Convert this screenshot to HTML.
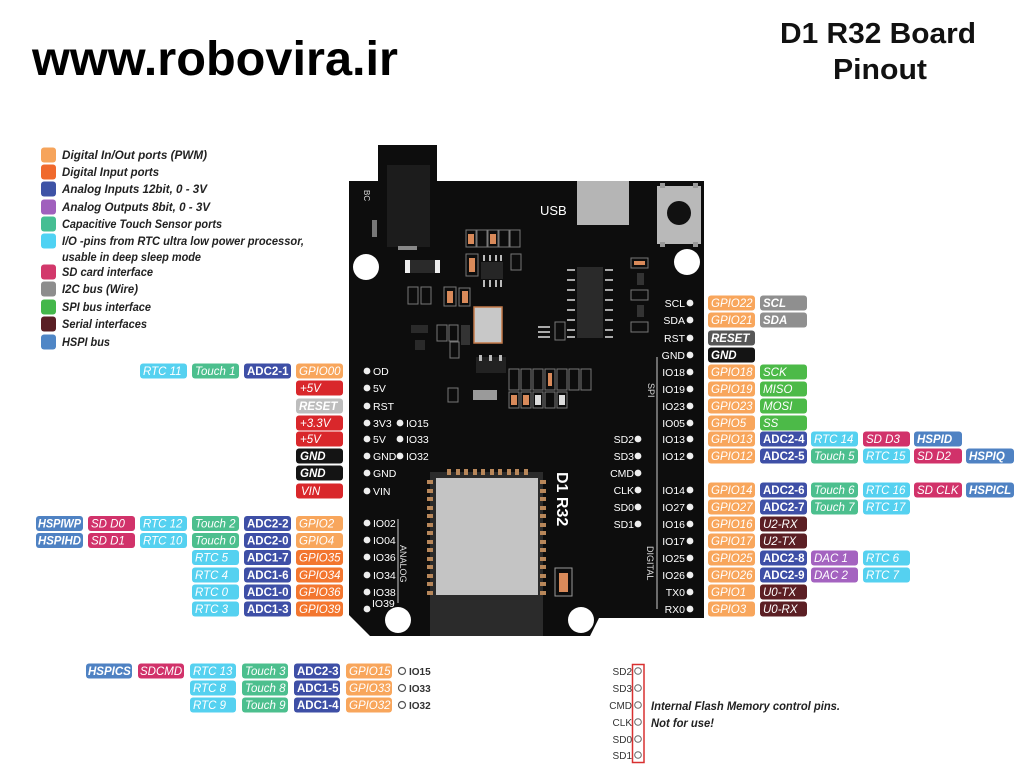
<!DOCTYPE html>
<html><head><meta charset="utf-8">
<style>
html,body{margin:0;padding:0;background:#fff;}
svg{display:block;}
.t{font-family:"Liberation Sans",sans-serif;font-size:11.5px;font-style:italic;fill:#fff;}
.b{font-weight:bold;}
.u{font-style:normal;font-weight:bold;}
.p{font-family:"Liberation Sans",sans-serif;font-size:10.5px;fill:#fff;}
.lg{font-family:"Liberation Sans",sans-serif;font-size:11.7px;font-style:italic;font-weight:bold;fill:#222;}
.o{fill:#f8a65c}.od{fill:#f3762f}.a{fill:#3e4fa6}.d{fill:#a463c0}.tc{fill:#4cbf8e}.r{fill:#55d1f0}
.s{fill:#d1326a}.g{fill:#8f8f8f}.sp{fill:#4cba48}.se{fill:#5b1f24}.h{fill:#4f82c3}.pw{fill:#d9272b}
.k{fill:#141414}.rl{fill:#bdbdbd}.rd{fill:#575757}
.c{fill:none;stroke:#777;stroke-width:1}
.dot{fill:#eee}
</style></head>
<body>
<svg width="1024" height="771" viewBox="0 0 1024 771" xmlns="http://www.w3.org/2000/svg">
<rect width="1024" height="771" fill="#fff"/>

<!-- Titles -->
<text x="32" y="75" font-family="Liberation Sans, sans-serif" font-weight="bold" font-size="48" fill="#000" textLength="366" lengthAdjust="spacingAndGlyphs">www.robovira.ir</text>
<text x="878" y="43" text-anchor="middle" font-family="Liberation Sans, sans-serif" font-weight="bold" font-size="29" fill="#111" textLength="196" lengthAdjust="spacingAndGlyphs">D1 R32 Board</text>
<text x="880" y="79" text-anchor="middle" font-family="Liberation Sans, sans-serif" font-weight="bold" font-size="29" fill="#111" textLength="94" lengthAdjust="spacingAndGlyphs">Pinout</text>

<!-- Legend -->
<g>
<rect x="41" y="147.5" width="15" height="15" rx="3" fill="#f6a45b"/><text x="62" y="159" class="lg" textLength="145" lengthAdjust="spacingAndGlyphs">Digital In/Out ports (PWM)</text>
<rect x="41" y="164.5" width="15" height="15" rx="3" fill="#f0692c"/><text x="62" y="176" class="lg" textLength="97" lengthAdjust="spacingAndGlyphs">Digital Input ports</text>
<rect x="41" y="181.5" width="15" height="15" rx="3" fill="#3e53a6"/><text x="62" y="193" class="lg" textLength="145" lengthAdjust="spacingAndGlyphs">Analog Inputs 12bit, 0 - 3V</text>
<rect x="41" y="199.5" width="15" height="15" rx="3" fill="#a060bd"/><text x="62" y="211" class="lg" textLength="148" lengthAdjust="spacingAndGlyphs">Analog Outputs 8bit, 0 - 3V</text>
<rect x="41" y="216.5" width="15" height="15" rx="3" fill="#46be93"/><text x="62" y="228" class="lg" textLength="160" lengthAdjust="spacingAndGlyphs">Capacitive Touch Sensor ports</text>
<rect x="41" y="233.5" width="15" height="15" rx="3" fill="#4fd2f3"/><text x="62" y="245" class="lg" textLength="242" lengthAdjust="spacingAndGlyphs">I/O -pins from RTC ultra low power processor,</text>
<text x="62" y="261" class="lg" textLength="139" lengthAdjust="spacingAndGlyphs">usable in deep sleep mode</text>
<rect x="41" y="264.5" width="15" height="15" rx="3" fill="#d2386b"/><text x="62" y="276" class="lg" textLength="91" lengthAdjust="spacingAndGlyphs">SD card interface</text>
<rect x="41" y="281.5" width="15" height="15" rx="3" fill="#8d8d8d"/><text x="62" y="293" class="lg" textLength="76" lengthAdjust="spacingAndGlyphs">I2C bus (Wire)</text>
<rect x="41" y="299.5" width="15" height="15" rx="3" fill="#44b74a"/><text x="62" y="311" class="lg" textLength="89" lengthAdjust="spacingAndGlyphs">SPI bus interface</text>
<rect x="41" y="316.5" width="15" height="15" rx="3" fill="#5a1f25"/><text x="62" y="328" class="lg" textLength="85" lengthAdjust="spacingAndGlyphs">Serial interfaces</text>
<rect x="41" y="334.5" width="15" height="15" rx="3" fill="#4f86c6"/><text x="62" y="346" class="lg" textLength="48" lengthAdjust="spacingAndGlyphs">HSPI bus</text>
</g>

<!-- Board -->
<rect x="378" y="145" width="59" height="50" fill="#0d0d0d"/>
<polygon points="349,181 704,181 704,618 599,618 590,636 370,636 349,615" fill="#0d0d0d"/>
<rect x="387" y="165" width="43" height="82" fill="#1c1c1c"/>
<rect x="398" y="246" width="19" height="4" fill="#888"/>
<rect x="372" y="220" width="5" height="17" fill="#777"/>
<text transform="translate(364,190) rotate(90)" font-family="Liberation Sans, sans-serif" font-size="8" fill="#ddd">BC</text>
<rect x="577" y="181" width="52" height="44" fill="#b5b5b5"/>
<text x="540" y="215" font-family="Liberation Sans, sans-serif" font-size="13" fill="#fff">USB</text>
<rect x="657" y="186" width="44" height="58" fill="#b9b9b9"/>
<rect x="660" y="183" width="5" height="5" fill="#999"/><rect x="693" y="183" width="5" height="5" fill="#999"/>
<rect x="660" y="242" width="5" height="5" fill="#999"/><rect x="693" y="242" width="5" height="5" fill="#999"/>
<circle cx="679" cy="213" r="12" fill="#111"/>
<circle cx="366" cy="267" r="13" fill="#fff"/>
<circle cx="687" cy="262" r="13" fill="#fff"/>

<!-- small components -->
<rect x="405" y="260" width="35" height="13" fill="#2a2a2a"/><rect x="405" y="260" width="5" height="13" fill="#eee"/><rect x="435" y="260" width="5" height="13" fill="#eee"/>
<g class="c">
<rect x="466" y="230" width="10" height="17"/><rect x="477" y="230" width="10" height="17"/><rect x="488" y="230" width="10" height="17"/><rect x="499" y="230" width="10" height="17"/><rect x="510" y="230" width="10" height="17"/>
<rect x="466" y="254" width="12" height="22"/><rect x="511" y="254" width="10" height="16"/>
<rect x="408" y="287" width="10" height="17"/><rect x="421" y="287" width="10" height="17"/>
<rect x="444" y="287" width="12" height="19"/><rect x="459" y="288" width="11" height="18"/>
<rect x="437" y="325" width="10" height="16"/><rect x="449" y="325" width="9" height="16"/><rect x="450" y="342" width="9" height="16"/>
<rect x="555" y="322" width="10" height="18"/>
<rect x="631" y="258" width="17" height="10"/><rect x="631" y="290" width="17" height="10"/><rect x="631" y="322" width="17" height="10"/>
<rect x="509" y="369" width="10" height="21"/><rect x="521" y="369" width="10" height="21"/><rect x="533" y="369" width="10" height="21"/><rect x="545" y="369" width="10" height="21"/><rect x="557" y="369" width="10" height="21"/><rect x="569" y="369" width="10" height="21"/><rect x="581" y="369" width="10" height="21"/>
<rect x="509" y="392" width="10" height="16"/><rect x="521" y="392" width="10" height="16"/><rect x="533" y="392" width="10" height="16"/><rect x="545" y="392" width="10" height="16"/><rect x="557" y="392" width="10" height="16"/>
<rect x="448" y="388" width="10" height="14"/>
<rect x="555" y="568" width="17" height="28" stroke="#999"/>
</g>
<g fill="#d98a5a">
<rect x="468" y="234" width="6" height="10"/><rect x="490" y="234" width="6" height="10"/>
<rect x="469" y="258" width="6" height="14"/>
<rect x="447" y="291" width="6" height="12"/><rect x="462" y="291" width="6" height="12"/>
<rect x="634" y="261" width="11" height="4"/>
<rect x="548" y="373" width="4" height="13"/>
<rect x="511" y="395" width="6" height="10"/><rect x="523" y="395" width="6" height="10"/>
<rect x="559" y="573" width="9" height="19"/>
</g>
<g fill="#ddd"><rect x="535" y="395" width="6" height="10"/><rect x="559" y="395" width="6" height="10"/></g>
<!-- 8 pin chip -->
<rect x="481" y="262" width="22" height="17" fill="#262626"/>
<g fill="#bbb"><rect x="483" y="255" width="2" height="6"/><rect x="489" y="255" width="2" height="6"/><rect x="495" y="255" width="2" height="6"/><rect x="500" y="255" width="2" height="6"/>
<rect x="483" y="280" width="2" height="7"/><rect x="489" y="280" width="2" height="7"/><rect x="495" y="280" width="2" height="7"/><rect x="500" y="280" width="2" height="7"/></g>
<!-- crystal -->
<rect x="474" y="307" width="28" height="36" fill="#c8c8c8" stroke="#c47a4a" stroke-width="1.5"/>
<rect x="461" y="325" width="9" height="20" fill="#333"/>
<rect x="411" y="325" width="17" height="8" fill="#2a2a2a"/>
<rect x="415" y="340" width="10" height="10" fill="#2a2a2a"/>
<rect x="476" y="357" width="30" height="16" fill="#222"/>
<g fill="#bbb"><rect x="479" y="355" width="3" height="6"/><rect x="489" y="355" width="3" height="6"/><rect x="499" y="355" width="3" height="6"/></g>
<rect x="473" y="390" width="24" height="10" fill="#9a9a9a"/>
<!-- SOIC -->
<rect x="577" y="267" width="26" height="71" fill="#2a2a2a"/>
<g fill="#aaa">
<rect x="567" y="269" width="8" height="2"/><rect x="567" y="279" width="8" height="2"/><rect x="567" y="289" width="8" height="2"/><rect x="567" y="299" width="8" height="2"/><rect x="567" y="309" width="8" height="2"/><rect x="567" y="319" width="8" height="2"/><rect x="567" y="329" width="8" height="2"/><rect x="567" y="336" width="8" height="2"/>
<rect x="605" y="269" width="8" height="2"/><rect x="605" y="279" width="8" height="2"/><rect x="605" y="289" width="8" height="2"/><rect x="605" y="299" width="8" height="2"/><rect x="605" y="309" width="8" height="2"/><rect x="605" y="319" width="8" height="2"/><rect x="605" y="329" width="8" height="2"/><rect x="605" y="336" width="8" height="2"/>
<rect x="538" y="326" width="12" height="2"/><rect x="538" y="331" width="12" height="2"/><rect x="538" y="336" width="12" height="2"/>
</g>
<rect x="637" y="273" width="7" height="12" fill="#333"/><rect x="637" y="305" width="7" height="12" fill="#333"/>

<!-- ESP module -->
<rect x="430" y="472" width="113" height="164" fill="#2b2b2b"/>
<rect x="436" y="478" width="102" height="117" fill="#c4c4c4"/>
<g fill="#b8875a">
<rect x="427" y="480" width="6" height="4"/><rect x="427" y="489" width="6" height="4"/><rect x="427" y="497" width="6" height="4"/><rect x="427" y="506" width="6" height="4"/><rect x="427" y="514" width="6" height="4"/><rect x="427" y="523" width="6" height="4"/><rect x="427" y="531" width="6" height="4"/><rect x="427" y="540" width="6" height="4"/><rect x="427" y="548" width="6" height="4"/><rect x="427" y="557" width="6" height="4"/><rect x="427" y="565" width="6" height="4"/><rect x="427" y="574" width="6" height="4"/><rect x="427" y="582" width="6" height="4"/><rect x="427" y="591" width="6" height="4"/>
<rect x="540" y="480" width="6" height="4"/><rect x="540" y="489" width="6" height="4"/><rect x="540" y="497" width="6" height="4"/><rect x="540" y="506" width="6" height="4"/><rect x="540" y="514" width="6" height="4"/><rect x="540" y="523" width="6" height="4"/><rect x="540" y="531" width="6" height="4"/><rect x="540" y="540" width="6" height="4"/><rect x="540" y="548" width="6" height="4"/><rect x="540" y="557" width="6" height="4"/><rect x="540" y="565" width="6" height="4"/><rect x="540" y="574" width="6" height="4"/><rect x="540" y="582" width="6" height="4"/><rect x="540" y="591" width="6" height="4"/>
<rect x="447" y="469" width="4" height="6"/><rect x="456" y="469" width="4" height="6"/><rect x="464" y="469" width="4" height="6"/><rect x="473" y="469" width="4" height="6"/><rect x="481" y="469" width="4" height="6"/><rect x="490" y="469" width="4" height="6"/><rect x="498" y="469" width="4" height="6"/><rect x="507" y="469" width="4" height="6"/><rect x="515" y="469" width="4" height="6"/><rect x="524" y="469" width="4" height="6"/>
</g>
<text transform="translate(557,472) rotate(90)" font-family="Liberation Sans, sans-serif" font-weight="bold" font-size="16" fill="#fff">D1 R32</text>
<circle cx="398" cy="620" r="13" fill="#fff"/>
<circle cx="581" cy="620" r="13" fill="#fff"/>

<!-- bracket lines -->
<line x1="398" y1="519" x2="398" y2="603" stroke="#ccc" stroke-width="1"/>
<text transform="translate(400,545) rotate(90)" font-family="Liberation Sans, sans-serif" font-size="9" fill="#ddd">ANALOG</text>
<line x1="657" y1="357" x2="657" y2="609" stroke="#ccc" stroke-width="1"/>
<text transform="translate(648,383) rotate(90)" font-family="Liberation Sans, sans-serif" font-size="9" fill="#ddd">SPI</text>
<text transform="translate(647,546) rotate(90)" font-family="Liberation Sans, sans-serif" font-size="9" fill="#ddd">DIGITAL</text>

<!-- board pins left -->
<g>
<circle cx="367" cy="371" r="3.4" class="dot"/><text x="373" y="375" class="p">OD</text>
<circle cx="367" cy="388" r="3.4" class="dot"/><text x="373" y="392" class="p">5V</text>
<circle cx="367" cy="406" r="3.4" class="dot"/><text x="373" y="410" class="p">RST</text>
<circle cx="367" cy="423" r="3.4" class="dot"/><text x="373" y="427" class="p">3V3</text>
<circle cx="367" cy="439" r="3.4" class="dot"/><text x="373" y="443" class="p">5V</text>
<circle cx="367" cy="456" r="3.4" class="dot"/><text x="373" y="460" class="p">GND</text>
<circle cx="367" cy="473" r="3.4" class="dot"/><text x="373" y="477" class="p">GND</text>
<circle cx="367" cy="491" r="3.4" class="dot"/><text x="373" y="495" class="p">VIN</text>
<circle cx="400" cy="423" r="3.4" class="dot"/><text x="406" y="427" class="p">IO15</text>
<circle cx="400" cy="439" r="3.4" class="dot"/><text x="406" y="443" class="p">IO33</text>
<circle cx="400" cy="456" r="3.4" class="dot"/><text x="406" y="460" class="p">IO32</text>
<circle cx="367" cy="523" r="3.4" class="dot"/><text x="373" y="527" class="p">IO02</text>
<circle cx="367" cy="540" r="3.4" class="dot"/><text x="373" y="544" class="p">IO04</text>
<circle cx="367" cy="557" r="3.4" class="dot"/><text x="373" y="561" class="p">IO36</text>
<circle cx="367" cy="575" r="3.4" class="dot"/><text x="373" y="579" class="p">IO34</text>
<circle cx="367" cy="592" r="3.4" class="dot"/><text x="373" y="596" class="p">IO38</text>
<circle cx="367" cy="609" r="3.4" class="dot"/><text x="372" y="607" class="p">IO39</text>
</g>
<!-- board pins right -->
<g text-anchor="end">
<circle cx="690" cy="303" r="3.4" class="dot"/><text x="685" y="307" class="p">SCL</text>
<circle cx="690" cy="320" r="3.4" class="dot"/><text x="685" y="324" class="p">SDA</text>
<circle cx="690" cy="338" r="3.4" class="dot"/><text x="685" y="342" class="p">RST</text>
<circle cx="690" cy="355" r="3.4" class="dot"/><text x="685" y="359" class="p">GND</text>
<circle cx="690" cy="372" r="3.4" class="dot"/><text x="685" y="376" class="p">IO18</text>
<circle cx="690" cy="389" r="3.4" class="dot"/><text x="685" y="393" class="p">IO19</text>
<circle cx="690" cy="406" r="3.4" class="dot"/><text x="685" y="410" class="p">IO23</text>
<circle cx="690" cy="423" r="3.4" class="dot"/><text x="685" y="427" class="p">IO05</text>
<circle cx="690" cy="439" r="3.4" class="dot"/><text x="685" y="443" class="p">IO13</text>
<circle cx="690" cy="456" r="3.4" class="dot"/><text x="685" y="460" class="p">IO12</text>
<circle cx="690" cy="490" r="3.4" class="dot"/><text x="685" y="494" class="p">IO14</text>
<circle cx="690" cy="507" r="3.4" class="dot"/><text x="685" y="511" class="p">IO27</text>
<circle cx="690" cy="524" r="3.4" class="dot"/><text x="685" y="528" class="p">IO16</text>
<circle cx="690" cy="541" r="3.4" class="dot"/><text x="685" y="545" class="p">IO17</text>
<circle cx="690" cy="558" r="3.4" class="dot"/><text x="685" y="562" class="p">IO25</text>
<circle cx="690" cy="575" r="3.4" class="dot"/><text x="685" y="579" class="p">IO26</text>
<circle cx="690" cy="592" r="3.4" class="dot"/><text x="685" y="596" class="p">TX0</text>
<circle cx="690" cy="609" r="3.4" class="dot"/><text x="685" y="613" class="p">RX0</text>
<circle cx="638" cy="439" r="3.4" class="dot"/><text x="634" y="443" class="p">SD2</text>
<circle cx="638" cy="456" r="3.4" class="dot"/><text x="634" y="460" class="p">SD3</text>
<circle cx="638" cy="473" r="3.4" class="dot"/><text x="634" y="477" class="p">CMD</text>
<circle cx="638" cy="490" r="3.4" class="dot"/><text x="634" y="494" class="p">CLK</text>
<circle cx="638" cy="507" r="3.4" class="dot"/><text x="634" y="511" class="p">SD0</text>
<circle cx="638" cy="524" r="3.4" class="dot"/><text x="634" y="528" class="p">SD1</text>
</g>

<!-- RIGHT side labels -->
<g transform="translate(0,303)"><rect x="708" y="-7.5" width="47" height="15" rx="3" class="o"/><text x="711" y="4" class="t">GPIO22</text><rect x="760" y="-7.5" width="47" height="15" rx="3" class="g"/><text x="763" y="4" class="t b">SCL</text></g>
<g transform="translate(0,320)"><rect x="708" y="-7.5" width="47" height="15" rx="3" class="o"/><text x="711" y="4" class="t">GPIO21</text><rect x="760" y="-7.5" width="47" height="15" rx="3" class="g"/><text x="763" y="4" class="t b">SDA</text></g>
<g transform="translate(0,338)"><rect x="708" y="-7.5" width="47" height="15" rx="3" class="rd"/><text x="711" y="4" class="t b">RESET</text></g>
<g transform="translate(0,355)"><rect x="708" y="-7.5" width="47" height="15" rx="3" class="k"/><text x="711" y="4" class="t b">GND</text></g>
<g transform="translate(0,372)"><rect x="708" y="-7.5" width="47" height="15" rx="3" class="o"/><text x="711" y="4" class="t">GPIO18</text><rect x="760" y="-7.5" width="47" height="15" rx="3" class="sp"/><text x="763" y="4" class="t">SCK</text></g>
<g transform="translate(0,389)"><rect x="708" y="-7.5" width="47" height="15" rx="3" class="o"/><text x="711" y="4" class="t">GPIO19</text><rect x="760" y="-7.5" width="47" height="15" rx="3" class="sp"/><text x="763" y="4" class="t">MISO</text></g>
<g transform="translate(0,406)"><rect x="708" y="-7.5" width="47" height="15" rx="3" class="o"/><text x="711" y="4" class="t">GPIO23</text><rect x="760" y="-7.5" width="47" height="15" rx="3" class="sp"/><text x="763" y="4" class="t">MOSI</text></g>
<g transform="translate(0,423)"><rect x="708" y="-7.5" width="47" height="15" rx="3" class="o"/><text x="711" y="4" class="t">GPIO5</text><rect x="760" y="-7.5" width="47" height="15" rx="3" class="sp"/><text x="763" y="4" class="t">SS</text></g>
<g transform="translate(0,439)"><rect x="708" y="-7.5" width="47" height="15" rx="3" class="o"/><text x="711" y="4" class="t">GPIO13</text><rect x="760" y="-7.5" width="47" height="15" rx="3" class="a"/><text x="763" y="4" class="t u">ADC2-4</text><rect x="811" y="-7.5" width="47" height="15" rx="3" class="r"/><text x="814" y="4" class="t">RTC 14</text><rect x="863" y="-7.5" width="47" height="15" rx="3" class="s"/><text x="866" y="4" class="t">SD D3</text><rect x="914" y="-7.5" width="48" height="15" rx="3" class="h"/><text x="917" y="4" class="t b">HSPID</text></g>
<g transform="translate(0,456)"><rect x="708" y="-7.5" width="47" height="15" rx="3" class="o"/><text x="711" y="4" class="t">GPIO12</text><rect x="760" y="-7.5" width="47" height="15" rx="3" class="a"/><text x="763" y="4" class="t u">ADC2-5</text><rect x="811" y="-7.5" width="47" height="15" rx="3" class="tc"/><text x="814" y="4" class="t">Touch 5</text><rect x="863" y="-7.5" width="47" height="15" rx="3" class="r"/><text x="866" y="4" class="t">RTC 15</text><rect x="914" y="-7.5" width="48" height="15" rx="3" class="s"/><text x="917" y="4" class="t">SD D2</text><rect x="966" y="-7.5" width="48" height="15" rx="3" class="h"/><text x="969" y="4" class="t b">HSPIQ</text></g>
<g transform="translate(0,490)"><rect x="708" y="-7.5" width="47" height="15" rx="3" class="o"/><text x="711" y="4" class="t">GPIO14</text><rect x="760" y="-7.5" width="47" height="15" rx="3" class="a"/><text x="763" y="4" class="t u">ADC2-6</text><rect x="811" y="-7.5" width="47" height="15" rx="3" class="tc"/><text x="814" y="4" class="t">Touch 6</text><rect x="863" y="-7.5" width="47" height="15" rx="3" class="r"/><text x="866" y="4" class="t">RTC 16</text><rect x="914" y="-7.5" width="48" height="15" rx="3" class="s"/><text x="917" y="4" class="t">SD CLK</text><rect x="966" y="-7.5" width="48" height="15" rx="3" class="h"/><text x="969" y="4" class="t b">HSPICL</text></g>
<g transform="translate(0,507)"><rect x="708" y="-7.5" width="47" height="15" rx="3" class="o"/><text x="711" y="4" class="t">GPIO27</text><rect x="760" y="-7.5" width="47" height="15" rx="3" class="a"/><text x="763" y="4" class="t u">ADC2-7</text><rect x="811" y="-7.5" width="47" height="15" rx="3" class="tc"/><text x="814" y="4" class="t">Touch 7</text><rect x="863" y="-7.5" width="47" height="15" rx="3" class="r"/><text x="866" y="4" class="t">RTC 17</text></g>
<g transform="translate(0,524)"><rect x="708" y="-7.5" width="47" height="15" rx="3" class="o"/><text x="711" y="4" class="t">GPIO16</text><rect x="760" y="-7.5" width="47" height="15" rx="3" class="se"/><text x="763" y="4" class="t">U2-RX</text></g>
<g transform="translate(0,541)"><rect x="708" y="-7.5" width="47" height="15" rx="3" class="o"/><text x="711" y="4" class="t">GPIO17</text><rect x="760" y="-7.5" width="47" height="15" rx="3" class="se"/><text x="763" y="4" class="t">U2-TX</text></g>
<g transform="translate(0,558)"><rect x="708" y="-7.5" width="47" height="15" rx="3" class="o"/><text x="711" y="4" class="t">GPIO25</text><rect x="760" y="-7.5" width="47" height="15" rx="3" class="a"/><text x="763" y="4" class="t u">ADC2-8</text><rect x="811" y="-7.5" width="47" height="15" rx="3" class="d"/><text x="814" y="4" class="t">DAC 1</text><rect x="863" y="-7.5" width="47" height="15" rx="3" class="r"/><text x="866" y="4" class="t">RTC 6</text></g>
<g transform="translate(0,575)"><rect x="708" y="-7.5" width="47" height="15" rx="3" class="o"/><text x="711" y="4" class="t">GPIO26</text><rect x="760" y="-7.5" width="47" height="15" rx="3" class="a"/><text x="763" y="4" class="t u">ADC2-9</text><rect x="811" y="-7.5" width="47" height="15" rx="3" class="d"/><text x="814" y="4" class="t">DAC 2</text><rect x="863" y="-7.5" width="47" height="15" rx="3" class="r"/><text x="866" y="4" class="t">RTC 7</text></g>
<g transform="translate(0,592)"><rect x="708" y="-7.5" width="47" height="15" rx="3" class="o"/><text x="711" y="4" class="t">GPIO1</text><rect x="760" y="-7.5" width="47" height="15" rx="3" class="se"/><text x="763" y="4" class="t">U0-TX</text></g>
<g transform="translate(0,609)"><rect x="708" y="-7.5" width="47" height="15" rx="3" class="o"/><text x="711" y="4" class="t">GPIO3</text><rect x="760" y="-7.5" width="47" height="15" rx="3" class="se"/><text x="763" y="4" class="t">U0-RX</text></g>

<!-- LEFT side labels -->
<g transform="translate(0,371)"><rect x="296" y="-7.5" width="47" height="15" rx="3" class="o"/><text x="299" y="4" class="t">GPIO00</text><rect x="244" y="-7.5" width="47" height="15" rx="3" class="a"/><text x="247" y="4" class="t u">ADC2-1</text><rect x="192" y="-7.5" width="47" height="15" rx="3" class="tc"/><text x="195" y="4" class="t">Touch 1</text><rect x="140" y="-7.5" width="47" height="15" rx="3" class="r"/><text x="143" y="4" class="t">RTC 11</text></g>
<g transform="translate(0,388)"><rect x="296" y="-7.5" width="47" height="15" rx="3" class="pw"/><text x="300" y="4" class="t">+5V</text></g>
<g transform="translate(0,406)"><rect x="296" y="-7.5" width="47" height="15" rx="3" class="rl"/><text x="299" y="4" class="t b">RESET</text></g>
<g transform="translate(0,423)"><rect x="296" y="-7.5" width="47" height="15" rx="3" class="pw"/><text x="300" y="4" class="t">+3.3V</text></g>
<g transform="translate(0,439)"><rect x="296" y="-7.5" width="47" height="15" rx="3" class="pw"/><text x="300" y="4" class="t">+5V</text></g>
<g transform="translate(0,456)"><rect x="296" y="-7.5" width="47" height="15" rx="3" class="k"/><text x="300" y="4" class="t b">GND</text></g>
<g transform="translate(0,473)"><rect x="296" y="-7.5" width="47" height="15" rx="3" class="k"/><text x="300" y="4" class="t b">GND</text></g>
<g transform="translate(0,491)"><rect x="296" y="-7.5" width="47" height="15" rx="3" class="pw"/><text x="301" y="4" class="t">VIN</text></g>
<g transform="translate(0,523.5)"><rect x="296" y="-7.5" width="47" height="15" rx="3" class="o"/><text x="299" y="4" class="t">GPIO2</text><rect x="244" y="-7.5" width="47" height="15" rx="3" class="a"/><text x="247" y="4" class="t u">ADC2-2</text><rect x="192" y="-7.5" width="47" height="15" rx="3" class="tc"/><text x="195" y="4" class="t">Touch 2</text><rect x="140" y="-7.5" width="47" height="15" rx="3" class="r"/><text x="143" y="4" class="t">RTC 12</text><rect x="88" y="-7.5" width="47" height="15" rx="3" class="s"/><text x="91" y="4" class="t">SD D0</text><rect x="36" y="-7.5" width="47" height="15" rx="3" class="h"/><text x="38" y="4" class="t b" textLength="43" lengthAdjust="spacingAndGlyphs">HSPIWP</text></g>
<g transform="translate(0,540.5)"><rect x="296" y="-7.5" width="47" height="15" rx="3" class="o"/><text x="299" y="4" class="t">GPIO4</text><rect x="244" y="-7.5" width="47" height="15" rx="3" class="a"/><text x="247" y="4" class="t u">ADC2-0</text><rect x="192" y="-7.5" width="47" height="15" rx="3" class="tc"/><text x="195" y="4" class="t">Touch 0</text><rect x="140" y="-7.5" width="47" height="15" rx="3" class="r"/><text x="143" y="4" class="t">RTC 10</text><rect x="88" y="-7.5" width="47" height="15" rx="3" class="s"/><text x="91" y="4" class="t">SD D1</text><rect x="36" y="-7.5" width="47" height="15" rx="3" class="h"/><text x="38" y="4" class="t b" textLength="43" lengthAdjust="spacingAndGlyphs">HSPIHD</text></g>
<g transform="translate(0,557.5)"><rect x="296" y="-7.5" width="47" height="15" rx="3" class="od"/><text x="299" y="4" class="t">GPIO35</text><rect x="244" y="-7.5" width="47" height="15" rx="3" class="a"/><text x="247" y="4" class="t u">ADC1-7</text><rect x="192" y="-7.5" width="47" height="15" rx="3" class="r"/><text x="195" y="4" class="t">RTC 5</text></g>
<g transform="translate(0,575)"><rect x="296" y="-7.5" width="47" height="15" rx="3" class="od"/><text x="299" y="4" class="t">GPIO34</text><rect x="244" y="-7.5" width="47" height="15" rx="3" class="a"/><text x="247" y="4" class="t u">ADC1-6</text><rect x="192" y="-7.5" width="47" height="15" rx="3" class="r"/><text x="195" y="4" class="t">RTC 4</text></g>
<g transform="translate(0,592)"><rect x="296" y="-7.5" width="47" height="15" rx="3" class="od"/><text x="299" y="4" class="t">GPIO36</text><rect x="244" y="-7.5" width="47" height="15" rx="3" class="a"/><text x="247" y="4" class="t u">ADC1-0</text><rect x="192" y="-7.5" width="47" height="15" rx="3" class="r"/><text x="195" y="4" class="t">RTC 0</text></g>
<g transform="translate(0,609)"><rect x="296" y="-7.5" width="47" height="15" rx="3" class="od"/><text x="299" y="4" class="t">GPIO39</text><rect x="244" y="-7.5" width="47" height="15" rx="3" class="a"/><text x="247" y="4" class="t u">ADC1-3</text><rect x="192" y="-7.5" width="47" height="15" rx="3" class="r"/><text x="195" y="4" class="t">RTC 3</text></g>

<!-- BOTTOM labels -->
<g transform="translate(0,671)"><rect x="346" y="-7.5" width="46" height="15" rx="3" class="o"/><text x="349" y="4" class="t">GPIO15</text><rect x="294" y="-7.5" width="46" height="15" rx="3" class="a"/><text x="297" y="4" class="t u">ADC2-3</text><rect x="242" y="-7.5" width="46" height="15" rx="3" class="tc"/><text x="245" y="4" class="t">Touch 3</text><rect x="190" y="-7.5" width="46" height="15" rx="3" class="r"/><text x="193" y="4" class="t">RTC 13</text><rect x="138" y="-7.5" width="46" height="15" rx="3" class="s"/><text x="140" y="4" class="t">SDCMD</text><rect x="86" y="-7.5" width="46" height="15" rx="3" class="h"/><text x="88" y="4" class="t b">HSPICS</text><circle cx="402" cy="0" r="3.5" fill="#fff" stroke="#555" stroke-width="1.2"/><text x="409" y="4" font-family="Liberation Sans, sans-serif" font-size="10" font-weight="bold" fill="#333">IO15</text></g>
<g transform="translate(0,688)"><rect x="346" y="-7.5" width="46" height="15" rx="3" class="o"/><text x="349" y="4" class="t">GPIO33</text><rect x="294" y="-7.5" width="46" height="15" rx="3" class="a"/><text x="297" y="4" class="t u">ADC1-5</text><rect x="242" y="-7.5" width="46" height="15" rx="3" class="tc"/><text x="245" y="4" class="t">Touch 8</text><rect x="190" y="-7.5" width="46" height="15" rx="3" class="r"/><text x="193" y="4" class="t">RTC 8</text><circle cx="402" cy="0" r="3.5" fill="#fff" stroke="#555" stroke-width="1.2"/><text x="409" y="4" font-family="Liberation Sans, sans-serif" font-size="10" font-weight="bold" fill="#333">IO33</text></g>
<g transform="translate(0,705)"><rect x="346" y="-7.5" width="46" height="15" rx="3" class="o"/><text x="349" y="4" class="t">GPIO32</text><rect x="294" y="-7.5" width="46" height="15" rx="3" class="a"/><text x="297" y="4" class="t u">ADC1-4</text><rect x="242" y="-7.5" width="46" height="15" rx="3" class="tc"/><text x="245" y="4" class="t">Touch 9</text><rect x="190" y="-7.5" width="46" height="15" rx="3" class="r"/><text x="193" y="4" class="t">RTC 9</text><circle cx="402" cy="0" r="3.5" fill="#fff" stroke="#555" stroke-width="1.2"/><text x="409" y="4" font-family="Liberation Sans, sans-serif" font-size="10" font-weight="bold" fill="#333">IO32</text></g>

<!-- Flash pins -->
<rect x="632.5" y="664.5" width="11.5" height="98" fill="none" stroke="#d83030" stroke-width="1.5"/>
<g font-family="Liberation Sans, sans-serif" font-size="10" fill="#333" text-anchor="end">
<circle cx="638" cy="671" r="3.3" fill="#fff" stroke="#666"/><text x="632" y="675">SD2</text>
<circle cx="638" cy="688" r="3.3" fill="#fff" stroke="#666"/><text x="632" y="692">SD3</text>
<circle cx="638" cy="705" r="3.3" fill="#fff" stroke="#666"/><text x="632" y="709">CMD</text>
<circle cx="638" cy="722" r="3.3" fill="#fff" stroke="#666"/><text x="632" y="726">CLK</text>
<circle cx="638" cy="739" r="3.3" fill="#fff" stroke="#666"/><text x="632" y="743">SD0</text>
<circle cx="638" cy="755" r="3.3" fill="#fff" stroke="#666"/><text x="632" y="759">SD1</text>
</g>
<text x="651" y="710" class="lg" textLength="189" lengthAdjust="spacingAndGlyphs">Internal Flash Memory control pins.</text>
<text x="651" y="727" class="lg" textLength="63" lengthAdjust="spacingAndGlyphs">Not for use!</text>
</svg>
</body></html>
